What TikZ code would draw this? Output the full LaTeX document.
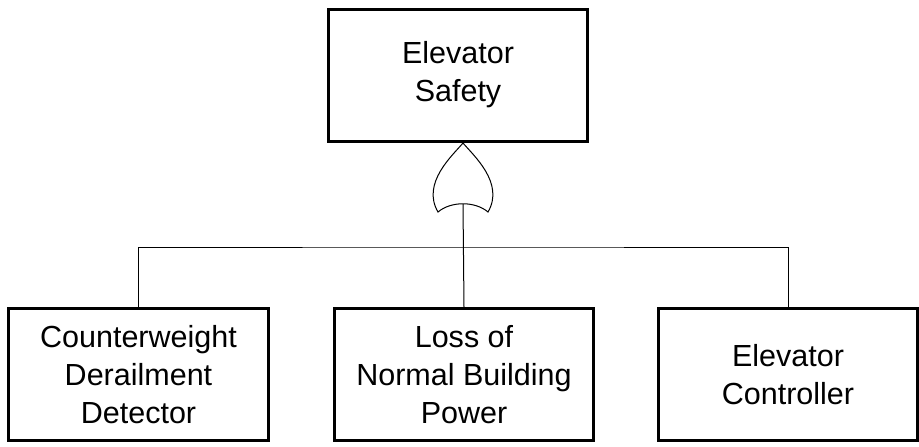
\documentclass[tikz,border=0pt]{standalone}
\usepackage{fontspec}
\setmainfont{Liberation Sans}
\usetikzlibrary{positioning}

\begin{document}
\begin{tikzpicture}[x=.25mm,y=-.25mm,line width=.25mm,
  event/.style={draw,line width=.75mm,minimum width=64.75mm,minimum height=33mm,inner sep=0pt,align=center,font=\fontsize{21.7}{27}\selectfont}]
\path[use as bounding box] (0,0) rectangle (919,446);
\node[event] (top) at (458,75) {Elevator\\Safety};
\node[event] (det) at (138.5,374.5) {Counterweight\\Derailment\\Detector};
\node[event] (power) at (464,374.5) {Loss of\\Normal Building\\Power};
\node[event] (ctrl) at (788,374.5) {Elevator\\Controller};
% or gate below the top event
\coordinate (orgate) at (463,143);
\begin{scope}[shift={(orgate)}]
\draw (0,0) .. controls (-10,12) and (-42,40) .. (-25,69) .. controls (-12,58) and (12,58) .. (25,69) .. controls (42,40) and (10,12) .. (0,0) -- cycle;
\coordinate (orin) at (0,61);
\end{scope}
\coordinate (bus) at (463,247);
\draw (orin) -- (power.north);
\draw (det.north) |- (bus) -| (ctrl.north);
\end{tikzpicture}
\end{document}
